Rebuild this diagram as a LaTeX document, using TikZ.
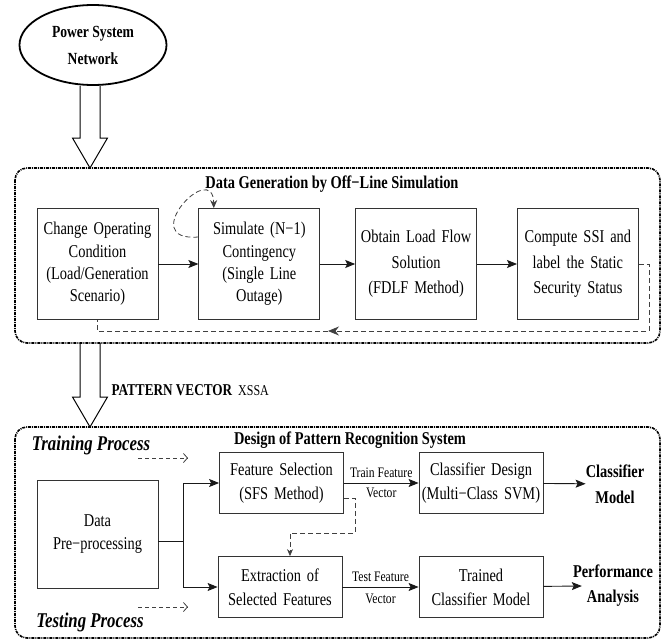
\documentclass[tikz,border=0pt]{standalone}
\usepackage{fontspec}
\setmainfont[FakeStretch=0.8]{Liberation Serif}
\usetikzlibrary{shapes.geometric,arrows.meta,calc,positioning}
\pgfdeclarelayer{background}
\pgfsetlayers{background,main}
\tikzstyle{source}=[ellipse, draw, line width=1.8pt, minimum width=147pt,
  minimum height=80pt, align=center, font=\fontsize{17}{27}\selectfont\bfseries]
\tikzstyle{stage}=[draw=black!80, line width=0.8pt, text width=113pt, inner sep=4pt,
  minimum height=111pt, align=center, font=\fontsize{18}{22.4}\selectfont]
\tikzstyle{stagewide}=[stage, font=\fontsize{18}{25.5}\selectfont]
\tikzstyle{block}=[stage, text width=120pt, inner sep=2pt, minimum height=61pt,
  font=\fontsize{18}{24}\selectfont]
\tikzstyle{outcome}=[align=center, inner sep=0pt, font=\fontsize{18}{26}\selectfont\bfseries]
\tikzstyle{title}=[font=\fontsize{18}{20}\selectfont\bfseries]
\tikzstyle{process}=[font=\fontsize{21}{24}\selectfont\bfseries\itshape]
\tikzstyle{edgelabel}=[font=\fontsize{14.5}{16}\selectfont, inner sep=5pt]
\tikzstyle{line}=[draw=black!90, line width=0.9pt, -{Stealth[length=10pt,width=8pt,inset=2pt]}]
\tikzstyle{linepart}=[draw=black!75, line width=0.8pt, dash pattern=on 5pt off 3pt]
\tikzstyle{hint}=[draw=black!75, line width=0.8pt, dash pattern=on 4pt off 3pt,
  -{Straight Barb[length=4pt,width=9pt]}]
\tikzstyle{hollow}=[draw, line width=1pt]
\tikzstyle{frame}=[draw, line width=1.6pt, rounded corners=12pt,
  dash pattern=on 3pt off 1pt on 1pt off 1pt]
\newcommand{\hollowarrow}[2]{%
  \path[hollow] ($(#1)+(-10,0)$) -- ($(#2)+(-10,-30)$) -- ($(#2)+(-17.5,-30)$)
    -- (#2) -- ($(#2)+(17.5,-30)$) -- ($(#2)+(10,-30)$) -- ($(#1)+(10,0)$);}
\newcommand{\background}[2]{%
  \begin{pgfonlayer}{background}
    % dash-dot frame round one stage of the scheme
    \path[frame] (#1) rectangle (#2);
  \end{pgfonlayer}}

\begin{document}
\begin{tikzpicture}[x=1pt,y=-1pt]
  \useasboundingbox (0,0) rectangle (670,642);

  % Draw diagram elements
  % source and off-line data generation
  \node[source] (PSN) at (93,45) {Power System\\Network};
  \node[stage] (CHANGE) at (97.5,264) {Change Operating\\Condition\\(Load/Generation\\Scenario)};
  \node[stage, right=40pt of CHANGE] (SIMULATE) {Simulate (N−1)\\Contingency\\(Single Line\\Outage)};
  \node[stagewide, right=35pt of SIMULATE] (LOADFLOW) {Obtain Load Flow\\Solution\\(FDLF Method)};
  \node[stagewide, right=40pt of LOADFLOW] (SSI) {Compute SSI and\\label the Static\\Security Status};
  \node[title] (DGTITLE) at (332,184) {Data Generation by Off−Line Simulation};

  % pattern recognition system
  \node[anchor=west, font=\fontsize{16.5}{18}\selectfont\bfseries] (PATVEC) at (108,390)
    {PATTERN VECTOR\hspace{6pt}{\mdseries\fontsize{15}{16}\selectfont XSSA}};
  \node[title] (DPTITLE) at (350,440) {Design of Pattern Recognition System};
  \node[process] (TRAINP) at (91,445) {Training Process};
  \node[process] (TESTP) at (90,622) {Testing Process};
  \node[stage, minimum height=108pt] (PREPROC) at (97.5,534) {Data\\Pre−processing};
  \node[block] (FEATSEL) at (281.5,483) {Feature Selection\\(SFS Method)};
  \node[block] (EXTRACT) at (280,587) {Extraction of\\Selected Features};
  \node[block] (CLASSDES) at (481,483) {Classifier Design\\(Multi−Class SVM)};
  \node[block] (TRAINED) at (481,587) {Trained\\Classifier Model};
  \node[outcome] (CLASSMOD) at (615,484) {Classifier\\Model};
  \node[outcome, font=\fontsize{18}{25}\selectfont\bfseries] (PERF) at (613,586) {Performance\\Analysis};

  % free ends and bends
  \coordinate (TIPA) at (90,168);
  \coordinate (TAILA) at (PSN.south -| TIPA);
  \coordinate (TAILB) at (90,343);
  \coordinate (TIPB) at (90,427);
  \coordinate (FBRIGHT) at (649,331);
  \coordinate (FBTIP) at (328,331);
  \coordinate (JUNC) at (183,541);
  \coordinate (FSBEND) at (355,533);
  \coordinate (TRAINA) at (138,458);
  \coordinate (TRAINB) at (188,458);
  \coordinate (TESTA) at (138,607);
  \coordinate (TESTB) at (188,607);

  % Draw arrows between elements
  \hollowarrow{TAILA}{TIPA}
  \hollowarrow{TAILB}{TIPB}

  % data generation block
  \path[line] (CHANGE) -- (SIMULATE);
  \path[line] (SIMULATE) -- (LOADFLOW);
  \path[line] (LOADFLOW) -- (SSI);
  \path[linepart, -{Stealth[length=8pt,width=7pt]}] ([yshift=27pt]SIMULATE.west)
    .. controls (135,242) and (213,158) .. ([xshift=-45.5pt]SIMULATE.north);
  \path[linepart, -{Stealth[length=11pt,width=9pt]}] (SSI.east) -| (FBRIGHT) -- (FBTIP);
  \path[linepart] (FBTIP) -| (CHANGE.south);

  % pattern recognition block
  \path[draw=black!90, line width=0.9pt] (PREPROC.east |- JUNC) -- (JUNC);
  \path[line] (JUNC) |- (FEATSEL.west);
  \path[line] (JUNC) |- (EXTRACT.west);
  \path[line] (FEATSEL) -- node[edgelabel, above] {Train Feature}
                           node[edgelabel, below] {Vector} (CLASSDES);
  \path[line] (EXTRACT) -- node[edgelabel, above] {Test Feature}
                           node[edgelabel, below, yshift=-2pt] {Vector} (TRAINED);
  \path[line] (CLASSDES) -- (CLASSMOD);
  \path[line] (TRAINED) -- ([xshift=9pt]PERF.west);
  \path[linepart, -{Stealth[length=7pt,width=6pt]}] ([yshift=-15pt]FEATSEL.east)
    -| (FSBEND) -| ([xshift=10pt]EXTRACT.north);
  \path[hint] (TRAINA) -- (TRAINB);
  \path[hint] (TESTA) -- (TESTB);

  % background generation block
  \background{15,168}{660,343}
  \background{15,427}{660,638}

\end{tikzpicture}
\end{document}
